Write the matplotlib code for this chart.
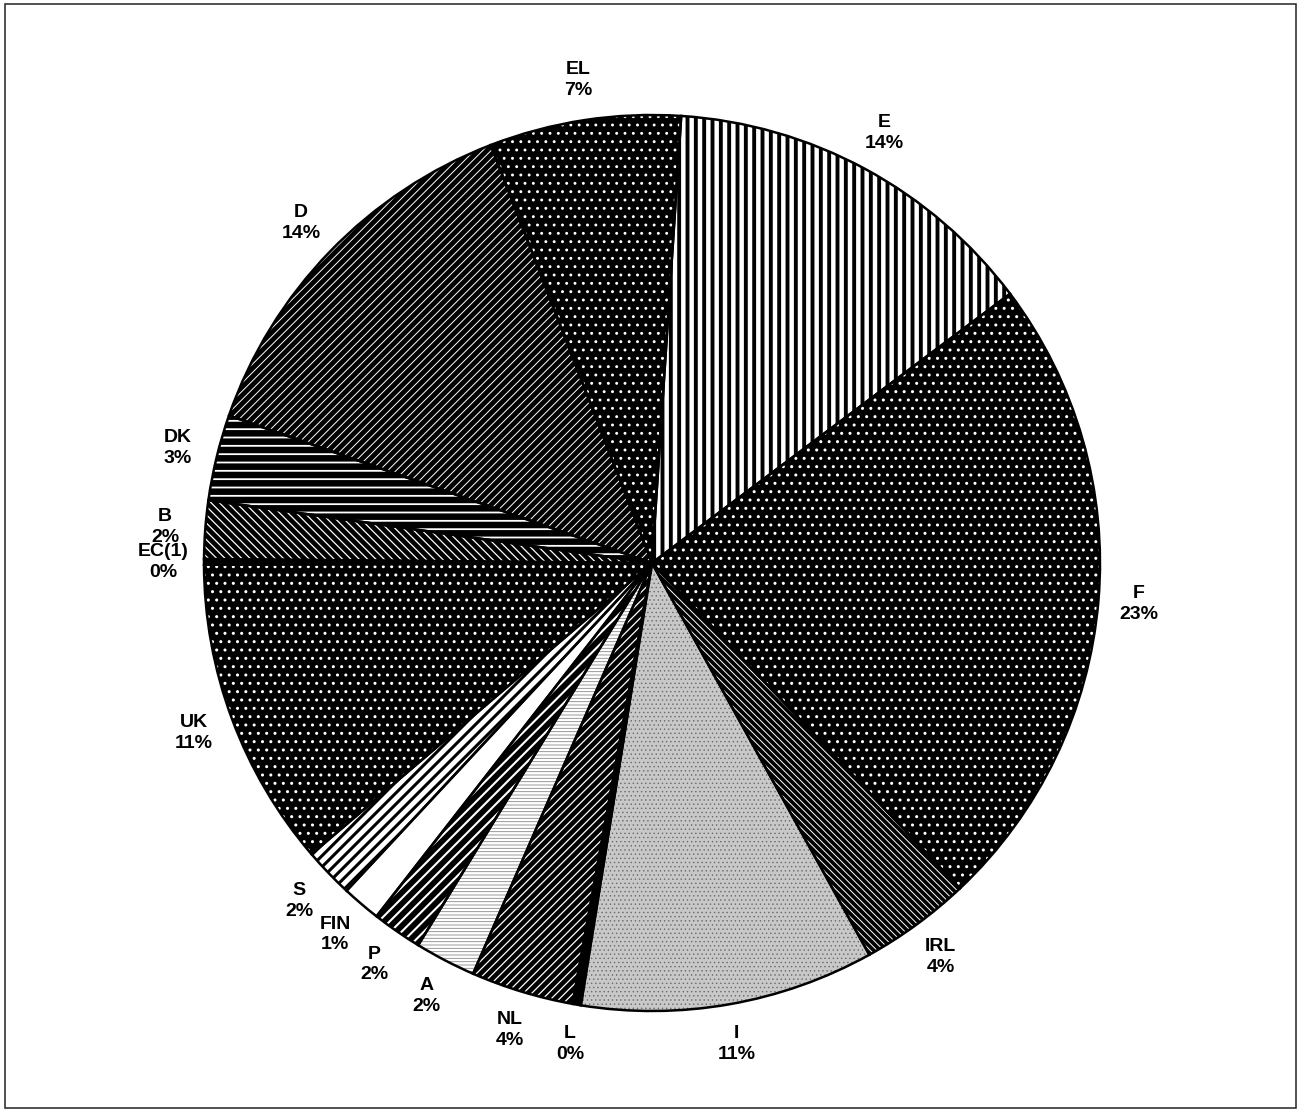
import matplotlib
matplotlib.use("Agg")
import matplotlib.pyplot as plt
from matplotlib.patches import Rectangle

# ---- data (shares in %) ----
countries = ['B', 'DK', 'D', 'EL', 'E', 'F', 'IRL', 'I', 'L', 'NL',
             'A', 'P', 'FIN', 'S', 'UK', 'EC(1)']
shares = [2.1, 3.1, 13.8, 6.9, 13.7, 23.2, 4.0, 10.6, 0.3, 3.7,
          2.2, 1.8, 1.4, 1.8, 11.2, 0.2]

# ---- styles: face colour, hatch, hatch colour, hatch linewidth ----
styles = {
    'B':     ('black', '\\\\\\\\', 'white', 0.9),
    'DK':    ('black', '--', 'white', 1.3),
    'D':     ('black', '////', 'white', 0.7),
    'EL':    ('black', '..', 'white', 0.9),
    'E':     ('white', '||', 'black', 2.8),
    'F':     ('black', '..', 'white', 1.0),
    'IRL':   ('black', '\\\\\\\\\\', 'white', 0.7),
    'I':     ('#c8c8c8', '....', '#6a6a6a', 0.5),
    'L':     ('black', None, 'black', 1.0),
    'NL':    ('black', '////', 'white', 0.9),
    'A':     ('white', '-----', '#888888', 0.6),
    'P':     ('black', '///', 'white', 1.5),
    'FIN':   ('white', None, 'white', 1.0),
    'S':     ('white', '///', 'black', 2.2),
    'UK':    ('black', '..', 'white', 1.0),
    'EC(1)': ('black', None, 'black', 1.0),
}

W, H = 1300, 1109
fig = plt.figure(figsize=(W / 100, H / 100), dpi=100)
ax = fig.add_axes([0, 0, 1, 1])

total = sum(shares)
labels = [f"{c}\n{round(v / total * 100):d}%" for c, v in zip(countries, shares)]

center = (652, H - 563)
radius = 448

wedges, texts = ax.pie(
    shares, labels=labels, center=center, radius=radius,
    startangle=179.5, counterclock=False, labeldistance=1.09,
    wedgeprops=dict(linewidth=0),
    textprops=dict(fontsize=14, fontweight='bold',
                   family=['Liberation Sans', 'DejaVu Sans']),
)

for w, c in zip(wedges, countries):
    face, hatch, hcol, hlw = styles[c]
    w.set_facecolor(face)
    w.set_edgecolor(hcol)
    w.set_linewidth(0)
    if hatch:
        w.set_hatch(hatch)
        if hasattr(w, 'set_hatch_linewidth'):
            w.set_hatch_linewidth(hlw)

for t in texts:
    t.set_ha('center')
    t.set_va('center')
    t.set_linespacing(1.3)

# outlines
ax.pie(shares, center=center, radius=radius, startangle=179.5,
       counterclock=False,
       wedgeprops=dict(fill=False, edgecolor='black', linewidth=1.8))

# frame
ax.add_patch(Rectangle((5, H - 1108), 1291, 1104, fill=False,
                       edgecolor='#333333', linewidth=1.2))

ax.set_xlim(0, W)
ax.set_ylim(0, H)
ax.set_aspect('equal')
ax.axis('off')

fig.savefig('out.png', dpi=100)
